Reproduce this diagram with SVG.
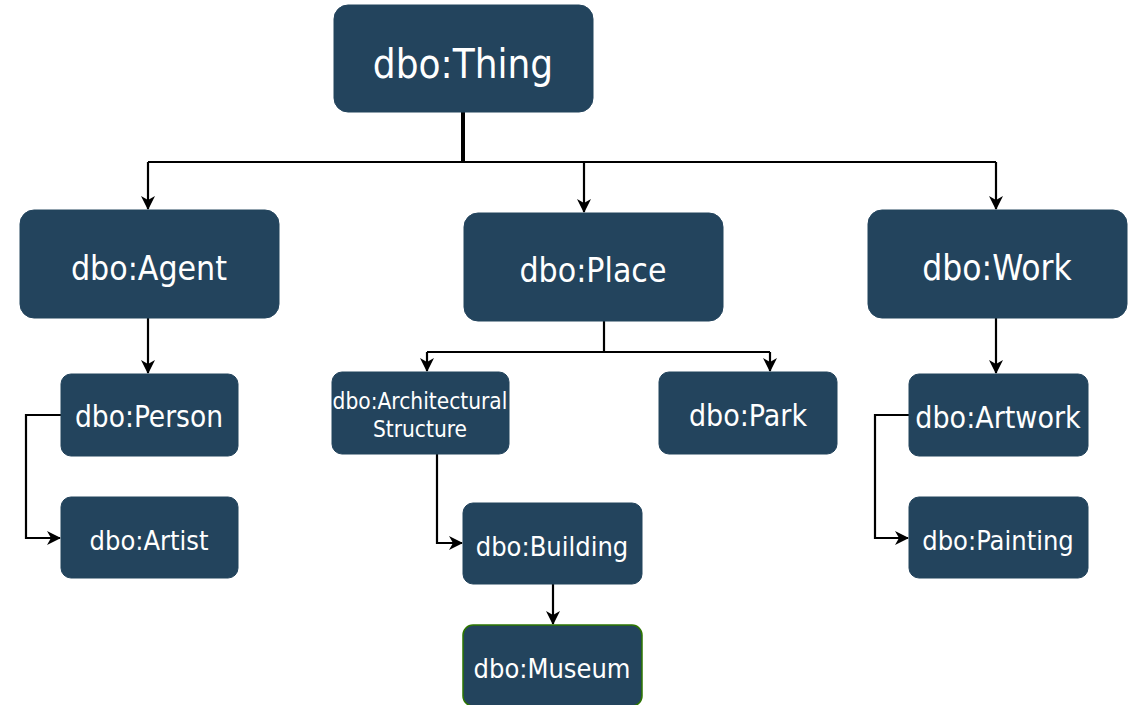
<svg xmlns="http://www.w3.org/2000/svg" width="1138" height="705" viewBox="0 0 1138 705">
  <style>
    .box { fill: #23445d; stroke: #23445d; stroke-width: 1; }
    .museum { fill: #23445d; stroke: #2d7600; stroke-width: 1.5; }
    .lbl { fill: #ffffff; font-family: "DejaVu Sans Condensed", "DejaVu Sans", sans-serif; font-stretch: condensed; text-anchor: middle; dominant-baseline: central; }
    .edge { fill: none; stroke: #000000; stroke-width: 2.2; }
    .trunk { fill: none; stroke: #000000; stroke-width: 4; }
  </style>
  <defs>
    <marker id="arrow" viewBox="0 0 14 14" refX="13" refY="7" markerWidth="14" markerHeight="14" markerUnits="userSpaceOnUse" orient="auto">
      <path d="M0,0 L14,7 L0,14 L4,7 Z" fill="#000000"/>
    </marker>
  </defs>
  <rect width="1138" height="705" fill="#ffffff"/>

  <g id="connectors">
    <path class="trunk" d="M463,112 V163"/>
    <path class="edge" d="M148,162 H996"/>
    <path class="edge" d="M148,162 V209" marker-end="url(#arrow)"/>
    <path class="edge" d="M584,162 V212" marker-end="url(#arrow)"/>
    <path class="edge" d="M996,162 V209" marker-end="url(#arrow)"/>
    <path class="edge" d="M148,318 V373" marker-end="url(#arrow)"/>
    <path class="edge" d="M61,415 H26 V538 H60" marker-end="url(#arrow)"/>
    <path class="edge" d="M604,321 V352"/>
    <path class="edge" d="M427,352 H770"/>
    <path class="edge" d="M427,352 V371" marker-end="url(#arrow)"/>
    <path class="edge" d="M770,352 V371" marker-end="url(#arrow)"/>
    <path class="edge" d="M437,454 V543 H462" marker-end="url(#arrow)"/>
    <path class="edge" d="M553,584 V624" marker-end="url(#arrow)"/>
    <path class="edge" d="M996,318 V373" marker-end="url(#arrow)"/>
    <path class="edge" d="M909,415 H875 V538 H908" marker-end="url(#arrow)"/>
  </g>

  <g id="thing">
    <rect class="box" x="334" y="5" width="259" height="107" rx="14"/>
    <text class="lbl" x="463" y="64" font-size="40">dbo:Thing</text>
  </g>
  <g id="agent">
    <rect class="box" x="20" y="210" width="259" height="108" rx="14"/>
    <text class="lbl" x="149" y="268" font-size="33.5">dbo:Agent</text>
  </g>
  <g id="place">
    <rect class="box" x="464" y="213" width="259" height="108" rx="14"/>
    <text class="lbl" x="593" y="270" font-size="33.5">dbo:Place</text>
  </g>
  <g id="work">
    <rect class="box" x="868" y="210" width="259" height="108" rx="14"/>
    <text class="lbl" x="997" y="268" font-size="35">dbo:Work</text>
  </g>
  <g id="person">
    <rect class="box" x="61" y="374" width="177" height="82" rx="10"/>
    <text class="lbl" x="149" y="417" font-size="29.5">dbo:Person</text>
  </g>
  <g id="artist">
    <rect class="box" x="61" y="497" width="177" height="81" rx="10"/>
    <text class="lbl" x="149" y="540" font-size="27">dbo:Artist</text>
  </g>
  <g id="architectural-structure">
    <rect class="box" x="332" y="372" width="177" height="82" rx="10"/>
    <text class="lbl" x="420" y="401" font-size="22.5">dbo:Architectural</text>
    <text class="lbl" x="420" y="429" font-size="22.5">Structure</text>
  </g>
  <g id="park">
    <rect class="box" x="659" y="372" width="178" height="82" rx="10"/>
    <text class="lbl" x="748" y="415" font-size="30">dbo:Park</text>
  </g>
  <g id="building">
    <rect class="box" x="463" y="503" width="179" height="81" rx="10"/>
    <text class="lbl" x="552" y="546" font-size="27">dbo:Building</text>
  </g>
  <g id="museum">
    <rect class="museum" x="463" y="625" width="179" height="81" rx="10"/>
    <text class="lbl" x="552" y="668" font-size="27">dbo:Museum</text>
  </g>
  <g id="artwork">
    <rect class="box" x="909" y="374" width="179" height="82" rx="10"/>
    <text class="lbl" x="998" y="417" font-size="30">dbo:Artwork</text>
  </g>
  <g id="painting">
    <rect class="box" x="909" y="497" width="179" height="81" rx="10"/>
    <text class="lbl" x="998" y="540" font-size="27">dbo:Painting</text>
  </g>
</svg>
